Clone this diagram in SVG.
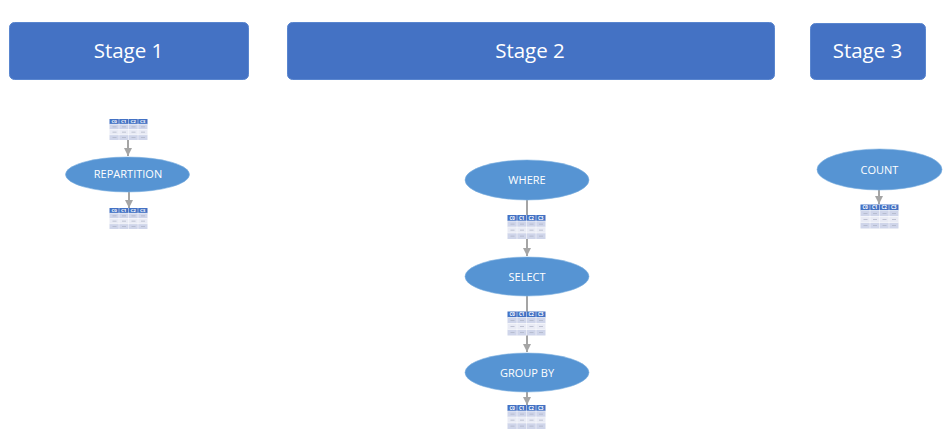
<svg xmlns="http://www.w3.org/2000/svg" width="943" height="440" viewBox="0 0 943 440">
<style>
text{font-family:"Open Sans","Noto Sans","Liberation Sans",sans-serif;fill:#fff;text-anchor:middle}
.stage{fill:#4472c4;stroke:#5a86cf;stroke-width:1}
.st{font-size:20.5px}
.op{fill:#5694d3;stroke:#7fb2e0;stroke-width:.6}
.ol{font-size:11px}
.conn{stroke:#a5a5a5;stroke-width:2;fill:none}
.hd{fill:#4472c4}
.r1{fill:#cfd5ea}.r2{fill:#e9ebf5}
.th{font-size:4.600px;font-weight:700}
.d{fill:#b0b5c6}
</style>
<defs>
<marker id="arr" markerUnits="userSpaceOnUse" markerWidth="9" markerHeight="8" refX="8" refY="4" orient="auto"><path d="M0 0L8 4L0 8Z" fill="#a5a5a5"/></marker>
<g id="tbl">
<rect class="hd" x="0" y="0" width="38" height="6"/>
<rect class="r1" x="0" y="6" width="38" height="6"/>
<rect class="r2" x="0" y="12" width="38" height="6"/>
<rect class="r1" x="0" y="18" width="38" height="6"/>
<path d="M9.500 0V24M19 0V24M28.500 0V24" stroke="#fff" stroke-width=".5"/>
<path d="M0 6H38M0 12H38M0 18H38" stroke="#fff" stroke-width=".5"/>
<text class="th" x="4.700" y="4.700">C0</text><text class="th" x="14.200" y="4.700">C1</text><text class="th" x="23.700" y="4.700">C2</text><text class="th" x="33.200" y="4.700">C3</text>
<path class="d" d="M3 8.700h4v.7h-4zM12.500 8.700h4v.7h-4zM22 8.700h4v.7h-4zM31.500 8.700h4v.7h-4zM3 14.700h4v.7h-4zM12.500 14.700h4v.7h-4zM22 14.700h4v.7h-4zM31.500 14.700h4v.7h-4zM3 20.700h4v.7h-4zM12.500 20.700h4v.7h-4zM22 20.700h4v.7h-4zM31.500 20.700h4v.7h-4z"/>
</g>
</defs>
<rect width="943" height="440" fill="#fff"/>
<g id="connectors">
<line class="conn" x1="128" y1="140" x2="128" y2="156" marker-end="url(#arr)"/>
<line class="conn" x1="129" y1="192" x2="129" y2="208" marker-end="url(#arr)"/>
<line class="conn" x1="527" y1="200" x2="527" y2="215"/>
<line class="conn" x1="527" y1="239" x2="527" y2="256" marker-end="url(#arr)"/>
<line class="conn" x1="527" y1="296" x2="527" y2="312"/>
<line class="conn" x1="527" y1="335" x2="527" y2="352" marker-end="url(#arr)"/>
<line class="conn" x1="527" y1="392" x2="527" y2="405" marker-end="url(#arr)"/>
<line class="conn" x1="879" y1="190" x2="879" y2="204" marker-end="url(#arr)"/>
</g>
<g id="stage1"><rect class="stage" x="9.500" y="22.500" width="239" height="57" rx="5"/><text class="st" x="128.500" y="57.500">Stage 1</text></g>
<g id="stage2"><rect class="stage" x="287.500" y="22.500" width="487" height="57" rx="5"/><text class="st" x="530" y="57.500">Stage 2</text></g>
<g id="stage3"><rect class="stage" x="810.500" y="23.500" width="115" height="56" rx="5"/><text class="st" x="867.500" y="57.500">Stage 3</text></g>
<g id="table1"><use href="#tbl" transform="translate(109.500 119) scale(1 .875)"/></g>
<g id="repartition"><ellipse class="op" cx="127.500" cy="174.500" rx="62" ry="17.500"/><text class="ol" x="128" y="178.300">REPARTITION</text></g>
<g id="table2"><use href="#tbl" transform="translate(109.500 208) scale(1 .875)"/></g>
<g id="where"><ellipse class="op" cx="527" cy="180" rx="62" ry="20"/><text class="ol" x="527" y="184.300">WHERE</text></g>
<g id="table3"><use href="#tbl" transform="translate(507.500 215)"/></g>
<g id="select"><ellipse class="op" cx="527" cy="276.500" rx="62" ry="19.500"/><text class="ol" x="527" y="280.800">SELECT</text></g>
<g id="table4"><use href="#tbl" transform="translate(507.500 311.500)"/></g>
<g id="groupby"><ellipse class="op" cx="527" cy="372.500" rx="62" ry="19.500"/><text class="ol" x="527" y="376.800">GROUP BY</text></g>
<g id="table5"><use href="#tbl" transform="translate(507.500 405)"/></g>
<g id="count"><ellipse class="op" cx="879.500" cy="169.500" rx="62.500" ry="20.500"/><text class="ol" x="879.500" y="173.800">COUNT</text></g>
<g id="table6"><use href="#tbl" transform="translate(860.500 204.500)"/></g>
</svg>
